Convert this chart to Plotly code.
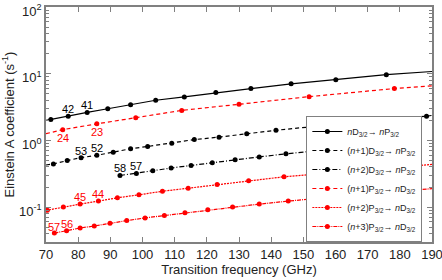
import plotly.graph_objects as go
import math

# ---------------- data ----------------
# nD3/2 -> nP3/2  (black solid), n = 43, 42, 41, ...
s1_freq = [71.5, 76.9, 82.8, 89.2, 96.3, 104.1, 113.0, 122.8, 133.7, 146.2, 160.1, 175.8]
s1_A    = [2.06, 2.31, 2.63, 2.98, 3.43, 4.00, 4.49, 5.21, 5.99, 7.05, 8.11, 9.66]
s1_line_start = (70, 1.99)
s1_line_end   = (190, 10.8)
s1_labels = {1: "42", 2: "41"}

# (n+1)D3/2 -> nP3/2 (black dashed)
s2_freq = [72.3, 76.6, 80.9, 85.8, 90.9, 96.3, 101.6, 109.1, 116.1, 123.8, 132.4, 141.5, 151.8, 162.7, 174.9, 188.3]
s2_A    = [0.443, 0.498, 0.552, 0.598, 0.665, 0.749, 0.811, 0.910, 1.03, 1.12, 1.26, 1.42, 1.59, 1.81, 2.06, 2.31]
s2_line_start = (70, 0.428)
s2_line_end   = (190, 2.37)
s2_labels = {2: "53", 3: "52"}

# (n+2)D3/2 -> nP3/2 (black dash-dot)
s3_freq = [93.0, 98.1, 103.2, 108.9, 115.1, 121.7, 128.8, 136.3, 144.6, 153.8]
s3_A    = [0.298, 0.320, 0.351, 0.386, 0.422, 0.464, 0.515, 0.566, 0.629, 0.698]
s3_line_start = None
s3_line_end   = (165, 0.817)
s3_labels = {0: "58", 1: "57"}

# (n+1)P3/2 -> nD3/2 (red dashed)
s4_freq = [75.2, 85.8, 97.9, 112.2, 130.0, 151.8, 178.3]
s4_A    = [1.45, 1.77, 2.18, 2.82, 3.48, 4.53, 5.99]
s4_line_start = (70, 1.26)
s4_line_end   = (190, 6.58)
s4_labels = {0: "24", 1: "23"}

# (n+2)P3/2 -> nD3/2 (red dotted)
s5_freq = [70.4, 75.4, 80.6, 86.3, 92.2, 98.9, 106.2, 114.2, 123.2, 133.0, 144.0, 156.2]
s5_A    = [0.0901, 0.100, 0.111, 0.123, 0.138, 0.153, 0.173, 0.192, 0.218, 0.248, 0.285, 0.320]
s5_line_start = (70, 0.0893)
s5_line_end   = (190, 0.437)
s5_labels = {2: "45", 3: "44"}

# (n+3)P3/2 -> nD3/2 (red dash-dot)
s6_freq = [72.6, 76.4, 80.6, 85.0, 89.9, 95.1, 100.8, 106.8, 113.2, 120.3, 128.0, 136.3, 145.3, 155.5]
s6_A    = [0.0408, 0.0444, 0.0486, 0.0521, 0.0573, 0.0628, 0.0689, 0.0749, 0.0820, 0.0910, 0.100, 0.111, 0.123, 0.137]
s6_line_start = None
s6_line_end   = (190, 0.189)
s6_labels = {0: "57", 1: "56"}

legend_names = [
    "<i>n</i>D<sub>3/2</sub>→ <i>n</i>P<sub>3/2</sub>",
    "(<i>n</i>+1)D<sub>3/2</sub>→ <i>n</i>P<sub>3/2</sub>",
    "(<i>n</i>+2)D<sub>3/2</sub>→ <i>n</i>P<sub>3/2</sub>",
    "(<i>n</i>+1)P<sub>3/2</sub>→ <i>n</i>D<sub>3/2</sub>",
    "(<i>n</i>+2)P<sub>3/2</sub>→ <i>n</i>D<sub>3/2</sub>",
    "(<i>n</i>+3)P<sub>3/2</sub>→ <i>n</i>D<sub>3/2</sub>",
]

x_ticks = [70, 80, 90, 100, 110, 120, 130, 140, 150, 160, 170, 180, 190]
y_ticks = [0.1, 1, 10, 100]
y_ticktext = ["10<sup>-1</sup>", "10<sup>0</sup>", "10<sup>1</sup>", "10<sup>2</sup>"]

# ---------------- figure ----------------
BLACK = "#000000"
RED = "#ff0000"
FONT = "Liberation Sans, Arial, sans-serif"

series = [
    (s1_freq, s1_A, s1_line_start, s1_line_end, s1_labels, BLACK, "solid", 7),
    (s2_freq, s2_A, s2_line_start, s2_line_end, s2_labels, BLACK, "4px,3px", 7),
    (s3_freq, s3_A, s3_line_start, s3_line_end, s3_labels, BLACK, "5px,2px,1px,2px", 7),
    (s4_freq, s4_A, s4_line_start, s4_line_end, s4_labels, RED, "4px,3px", -8),
    (s5_freq, s5_A, s5_line_start, s5_line_end, s5_labels, RED, "2px,1px", 7),
    (s6_freq, s6_A, s6_line_start, s6_line_end, s6_labels, RED, "4px,1px,1px,1px", 6.5),
]

fig = go.Figure()
annotations = []
for i, (fx, fa, ls, le, labs, col, dash, ysh) in enumerate(series):
    lx, ly = list(fx), list(fa)
    if ls:
        lx = [ls[0]] + lx
        ly = [ls[1]] + ly
    if le:
        lx = lx + [le[0]]
        ly = ly + [le[1]]
    fig.add_trace(go.Scatter(x=lx, y=ly, mode="lines", showlegend=False,
                             line=dict(color=col, width=1.2, dash=dash),
                             hoverinfo="skip"))
    fig.add_trace(go.Scatter(x=fx, y=fa, mode="markers", showlegend=False,
                             marker=dict(color=col, size=5, symbol="circle")))
    # legend entry
    fig.add_trace(go.Scatter(x=[None], y=[None], mode="lines+markers",
                             name=legend_names[i],
                             line=dict(color=col, width=1.2, dash=dash),
                             marker=dict(color=col, size=5)))
    for idx, txt in labs.items():
        annotations.append(dict(x=fx[idx], y=math.log10(fa[idx]), xref="x", yref="y",
                                text=txt, showarrow=False, yshift=ysh,
                                font=dict(size=11, color=col, family=FONT)))

minor_vals = [m * 10 ** e for e in (-2, -1, 0, 1) for m in range(2, 10)]
minor_vals = [v for v in minor_vals if v >= 0.03]

fig.update_layout(
    width=442, height=280,
    margin=dict(l=46, r=10, t=7, b=38, autoexpand=False),
    plot_bgcolor="white", paper_bgcolor="white",
    font=dict(family=FONT, size=12, color="#222222"),
    annotations=annotations,
    legend=dict(x=0.975, y=0.0, xanchor="right", yanchor="bottom",
                bgcolor="white", bordercolor="#808080", borderwidth=1,
                font=dict(size=9, color="#222222", family=FONT),
                itemwidth=30, tracegroupgap=0),
)
fig.update_xaxes(
    range=[70, 190], tickvals=x_ticks, ticks="inside", ticklen=5, tickwidth=1,
    tickcolor="#808080", showline=True, linecolor="#808080", linewidth=1.5,
    mirror="ticks", showgrid=False, zeroline=False, ticklabeloverflow="allow",
    tickfont=dict(size=13, color="#222222"),
    title=dict(text="Transition frequency (GHz)", font=dict(size=13, color="#222222"), standoff=4),
)
fig.update_yaxes(
    type="log", range=[math.log10(0.03), 2], tickvals=y_ticks, ticktext=y_ticktext,
    ticks="inside", ticklen=5, tickwidth=1, tickcolor="#808080",
    showline=True, linecolor="#808080", linewidth=1.5, mirror="ticks",
    showgrid=False, zeroline=False, ticklabeloverflow="allow", ticklabelshift=4,
    minor=dict(tickvals=minor_vals, ticks="inside", ticklen=3, tickcolor="#808080", showgrid=False),
    tickfont=dict(size=13, color="#222222"),
    title=dict(text="Einstein A coefficient (s<sup>-1</sup>)", font=dict(size=13, color="#222222"), standoff=2),
)

fig.write_html("out.html", config={"displayModeBar": False},
               post_script="document.body.style.margin='0';document.body.style.padding='0';")
